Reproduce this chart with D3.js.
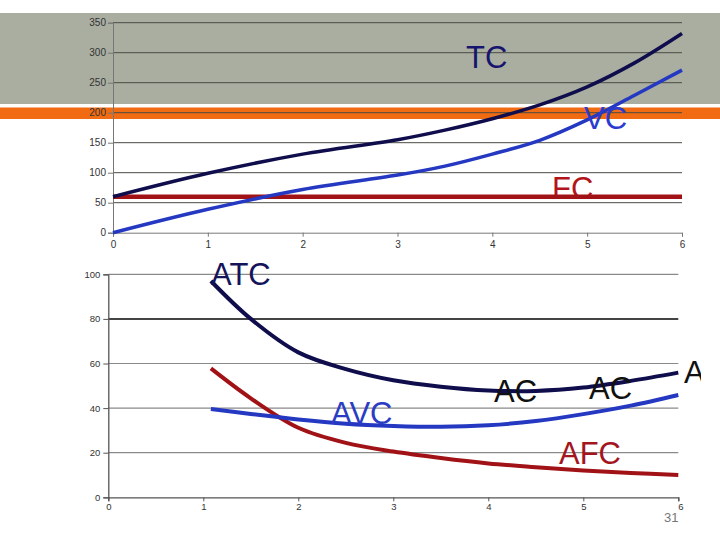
<!DOCTYPE html>
<html><head><meta charset="utf-8">
<script src="https://cdn.jsdelivr.net/npm/d3@7"></script>
<style>html,body{margin:0;padding:0;background:#fff;}svg{display:block;font-family:Arial,"Liberation Sans",sans-serif;}</style>
</head><body>
<script>
// ---- data: top chart (total, variable, fixed cost) ----
const qTop = [0, 1, 2, 3, 3.5, 4, 4.5, 5, 5.5, 6];
const tcVals = [60, 99, 131, 155, 171, 190, 213, 243, 283, 332];
const vcVals = [0, 39, 72, 96, 111, 131, 154, 188, 229, 271];
const fcVals = [60, 60, 60, 60, 60, 60, 60, 60, 60, 60];
const topYTicks = [0, 50, 100, 150, 200, 250, 300, 350];
const topXTicks = [0, 1, 2, 3, 4, 5, 6];

// ---- data: bottom chart (average costs) ----
const qBot = [1.08, 1.5, 2, 2.5, 3, 3.5, 4, 4.5, 5, 5.5, 6];
const atcVals = [97, 80, 65, 57.5, 52.5, 49.6, 47.9, 47.7, 49.2, 52.2, 55.9];
const avcVals = [39.6, 37.4, 34.9, 33, 32, 31.6, 32.3, 34.2, 37.3, 41.1, 45.9];
const afcVals = [57.8, 44.4, 31.2, 24.4, 20.5, 17.6, 15.2, 13.5, 12, 10.9, 10];
const botYTicks = [0, 20, 40, 60, 80, 100];
const botXTicks = [0, 1, 2, 3, 4, 5, 6];

const W = 720, H = 540;
const svg = d3.select("body").append("svg").attr("width", W).attr("height", H);

// slide decoration
svg.append("rect").attr("x", 0).attr("y", 13).attr("width", W).attr("height", 91).attr("fill", "#a9aea0");
svg.append("rect").attr("x", 0).attr("y", 107.5).attr("width", W).attr("height", 11.5).attr("fill", "#f06b12");

const C = {navy: "#0f0d4c", blue: "#2438c2", red: "#a11216"};
const fmt = d3.format("d");

// ---------- top chart ----------
const xT = d3.scaleLinear().domain([0, 6]).range([113, 682]);
const yT = d3.scaleLinear().domain([0, 350]).range([232.7, 22.7]);
const gT = svg.append("g");

gT.selectAll("line.grid").data(topYTicks.filter(d => d > 0)).join("line")
  .attr("x1", xT(0)).attr("x2", xT(6)).attr("y1", d => yT(d)).attr("y2", d => yT(d))
  .attr("stroke", "#4a4a44").attr("stroke-width", 1);

const yAxT = gT.append("g").attr("transform", `translate(${xT(0)},0)`)
  .call(d3.axisLeft(yT).tickValues(topYTicks).tickFormat(fmt).tickSize(5).tickPadding(2));
const xAxT = gT.append("g").attr("transform", `translate(0,${yT(0)})`)
  .call(d3.axisBottom(xT).tickValues(topXTicks).tickFormat(fmt).tickSize(4).tickPadding(4));
[yAxT, xAxT].forEach(a => {
  a.select(".domain").attr("stroke", "#777");
  a.selectAll(".tick line").attr("stroke", "#777");
  a.selectAll("text").attr("fill", "#333").attr("font-size", 10).attr("font-family", "Arial, 'Liberation Sans', sans-serif");
});

const lineT = vals => d3.line().x((d, i) => xT(qTop[i])).y(d => yT(d)).curve(d3.curveCatmullRom.alpha(0.5))(vals);

// labels (FC clipped by its line)
svg.append("clipPath").attr("id", "fcclip").append("rect").attr("x", 540).attr("y", 160).attr("width", 100).attr("height", 38);
gT.append("text").attr("x", 552).attr("y", 199).attr("font-size", 31).attr("fill", "#b3141b")
  .attr("clip-path", "url(#fcclip)").text("FC");

gT.append("path").attr("d", lineT(fcVals)).attr("fill", "none").attr("stroke", C.red).attr("stroke-width", 4.5);
gT.append("path").attr("d", lineT(vcVals)).attr("fill", "none").attr("stroke", C.blue).attr("stroke-width", 3.5);
gT.append("path").attr("d", lineT(tcVals)).attr("fill", "none").attr("stroke", C.navy).attr("stroke-width", 3.5);

gT.append("text").attr("x", 466).attr("y", 68).attr("font-size", 31).attr("fill", "#16146e").text("TC");
gT.append("text").attr("x", 584).attr("y", 129).attr("font-size", 31).attr("fill", "#2a3bd0").text("VC");

// ---------- bottom chart ----------
const xB = d3.scaleLinear().domain([0, 6]).range([108.3, 678.3]);
const yB = d3.scaleLinear().domain([0, 100]).range([497.3, 274.3]);
const gB = svg.append("g");

gB.selectAll("line.grid").data(botYTicks.filter(d => d > 0)).join("line")
  .attr("x1", xB(0)).attr("x2", xB(6)).attr("y1", d => yB(d)).attr("y2", d => yB(d))
  .attr("stroke", d => d === 80 ? "#444" : "#8a8a8a").attr("stroke-width", d => d === 80 ? 2 : 1.2);

const yAxB = gB.append("g").attr("transform", `translate(${xB(0)},0)`)
  .call(d3.axisLeft(yB).tickValues(botYTicks).tickFormat(fmt).tickSize(5).tickPadding(3));
const xAxB = gB.append("g").attr("transform", `translate(0,${yB(0)})`)
  .call(d3.axisBottom(xB).tickValues(botXTicks).tickFormat(fmt).tickSize(4).tickPadding(2));
[yAxB, xAxB].forEach(a => {
  a.select(".domain").attr("stroke", "#555").attr("stroke-width", 1.3);
  a.selectAll(".tick line").attr("stroke", "#555");
  a.selectAll("text").attr("fill", "#333").attr("font-size", 9.5).attr("font-family", "Arial, 'Liberation Sans', sans-serif");
});
xAxB.selectAll(".tick").filter(d => d === 6).select("text").attr("dx", 2);

const lineB = vals => d3.line().x((d, i) => xB(qBot[i])).y(d => yB(d)).curve(d3.curveCatmullRom.alpha(0.5))(vals);
gB.append("path").attr("d", lineB(afcVals)).attr("fill", "none").attr("stroke", C.red).attr("stroke-width", 4);
gB.append("path").attr("d", lineB(avcVals)).attr("fill", "none").attr("stroke", C.blue).attr("stroke-width", 4);
gB.append("path").attr("d", lineB(atcVals)).attr("fill", "none").attr("stroke", C.navy).attr("stroke-width", 4);

gB.append("text").attr("x", 211).attr("y", 284.5).attr("font-size", 31).attr("fill", "#15135a").text("ATC");
gB.append("text").attr("x", 331).attr("y", 423.5).attr("font-size", 31).attr("fill", "#2a3cc4").text("AVC");
gB.append("text").attr("x", 494).attr("y", 402).attr("font-size", 31).attr("fill", "#111").text("AC");
gB.append("text").attr("x", 589).attr("y", 399).attr("font-size", 31).attr("fill", "#111").text("AC");
svg.append("clipPath").attr("id", "aclip").append("rect").attr("x", 680).attr("y", 350).attr("width", 21).attr("height", 40);
gB.append("text").attr("x", 684).attr("y", 383).attr("font-size", 31).attr("fill", "#111").attr("clip-path", "url(#aclip)").text("A");
gB.append("text").attr("x", 559).attr("y", 463.5).attr("font-size", 31).attr("fill", "#a3161e").text("AFC");

// slide number
svg.append("text").attr("x", 664).attr("y", 522).attr("font-size", 13).attr("fill", "#777").text("31");
</script>
</body></html>
